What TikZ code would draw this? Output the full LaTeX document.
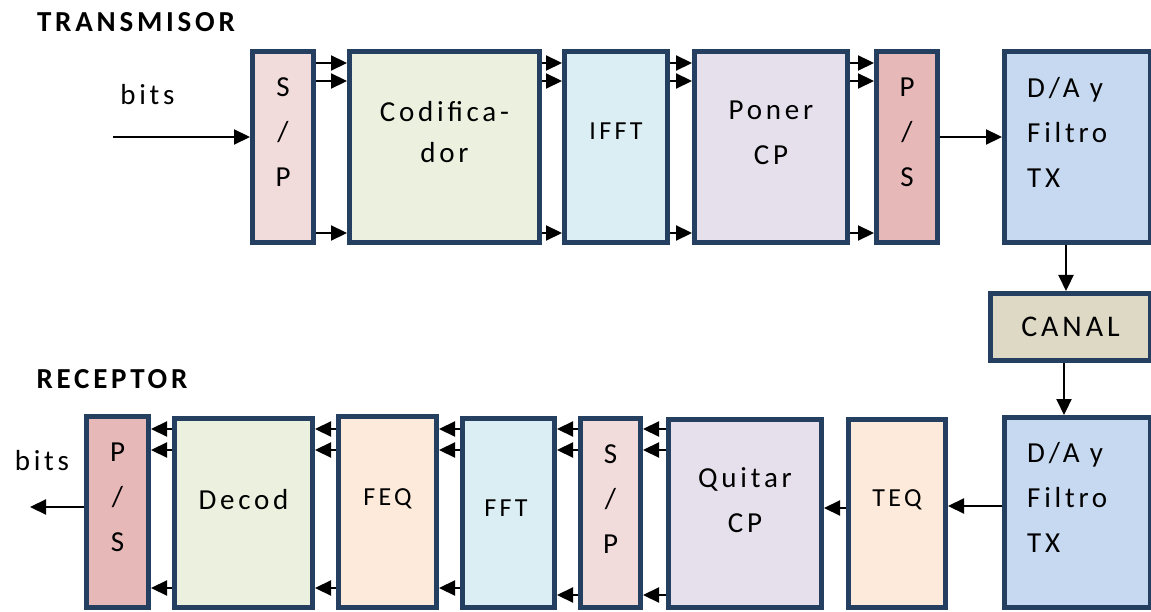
\documentclass[tikz,border=0pt]{standalone}
\usepackage{fontspec}
\setmainfont{Carlito}
\newfontfamily\bodyfont[LetterSpace=13]{Carlito}
\usetikzlibrary{arrows.meta,calc}
\definecolor{navy}{HTML}{243F60}
\definecolor{cpink}{HTML}{F2DCDB}
\definecolor{cgreen}{HTML}{EBF1DE}
\definecolor{cblue}{HTML}{DBEEF4}
\definecolor{cpurple}{HTML}{E5E0EC}
\definecolor{crose}{HTML}{E6B9B8}
\definecolor{csky}{HTML}{C6D9F1}
\definecolor{ctan}{HTML}{DDD9C4}
\definecolor{cpeach}{HTML}{FDEADA}
\tikzset{
  box/.style={draw=navy, line width=5pt, inner sep=0pt},
  txt/.style={font=\bodyfont\fontsize{29}{45}\selectfont, align=center, inner sep=0pt},
  stxt/.style={font=\bodyfont\fontsize{26}{40}\selectfont, inner sep=0pt},
  ttl/.style={font=\bodyfont\bfseries\fontsize{29}{35}\selectfont, inner sep=0pt},
  arr/.style={line width=2.2pt, -{Triangle[length=16pt 0 0,width=15pt 0 0]}}
}
\begin{document}
\begin{tikzpicture}[x=1pt,y=-1pt]
\useasboundingbox (0,0) rectangle (1151,612);

% titles
\node[ttl] (ttx) at (136,22) {TRANSMISOR};
\node[ttl] (trx) at (112,379) {RECEPTOR};

% transmitter boxes
\node[box, fill=cpink,   minimum width=61pt,  minimum height=191pt] (sp1)   at (283,147) {};
\node[box, fill=cgreen,  minimum width=190pt, minimum height=191pt] (cod)   at (444.5,147) {};
\node[box, fill=cblue,   minimum width=103pt, minimum height=191pt] (ifft)  at (616,147) {};
\node[box, fill=cpurple, minimum width=153pt, minimum height=191pt] (poner) at (771,147) {};
\node[box, fill=crose,   minimum width=61pt,  minimum height=191pt] (ps1)   at (907,147) {};
\node[box, fill=csky,    minimum width=146pt, minimum height=191pt] (da1)   at (1077.5,147) {};

% channel
\node[box, fill=ctan, minimum width=160pt, minimum height=67pt, font=\bodyfont\fontsize{30}{36}\selectfont] (canal) at (1070.5,327) {CANAL};

% receiver boxes
\node[box, fill=csky,    minimum width=146pt, minimum height=190pt] (da2)    at (1077.5,512.5) {};
\node[box, fill=cpeach,  minimum width=97pt,  minimum height=188pt] (teq)    at (897,513.5) {};
\node[box, fill=cpurple, minimum width=153pt, minimum height=188pt] (quitar) at (745,513.5) {};
\node[box, fill=cpink,   minimum width=60pt,  minimum height=189pt] (sp2)    at (610.5,513) {};
\node[box, fill=cblue,   minimum width=92pt,  minimum height=189pt] (fft)    at (508.5,513) {};
\node[box, fill=cpeach,  minimum width=98pt,  minimum height=191pt] (feq)    at (387.5,512) {};
\node[box, fill=cgreen,  minimum width=138pt, minimum height=189pt] (decod)  at (243.5,513) {};
\node[box, fill=crose,   minimum width=62pt,  minimum height=191pt] (ps2)    at (117.5,512) {};

% box texts
\node[txt] (sp1t) at (283,132.5) {S\\/\\P};
\node[txt] (codt) at (444.5,132) {Codifica-\\[-4pt]dor};
\node[stxt] (ifftt) at (616,131.5) {IFFT};
\node[txt] (ponert) at (771,133) {Poner\\CP};
\node[txt] (ps1t) at (907,132.5) {P\\/\\S};
\node[txt, align=left, anchor=west] (da1t) at (1027,132) {D/A y\\Filtro\\TX};

\node[txt, align=left, anchor=west] (da2t) at (1027,497.5) {D/A y\\Filtro\\TX};
\node[stxt] (teqt) at (897,500) {TEQ};
\node[txt] (quitart) at (745,500) {Quitar\\CP};
\node[txt] (sp2t) at (610.5,499) {S\\/\\P};
\node[stxt] (fftt) at (506,508.5) {FFT};
\node[stxt] (feqt) at (387.5,499) {FEQ};
\node[txt] (decodt) at (243.5,499.5) {Decod};
\node[txt] (ps2t) at (117.5,497.5) {P\\/\\S};

% bits labels
\node[txt] (bitsa) at (147.5,94.5) {bits};
\node[txt] (bitsb) at (42,461) {bits};
\coordinate (bitsin) at (113,137);
\coordinate (bitsout) at (30,507);

% transmitter connectors
\draw[arr] (bitsin) -- (sp1.west |- 0,137);
\foreach \a/\b in {sp1/cod, cod/ifft, ifft/poner, poner/ps1} {
  \foreach \y in {63,81,233} {
    \draw[arr] (\a.east |- 0,\y) -- (\b.west |- 0,\y);
  }
}
\draw[arr] (ps1.east |- 0,137) -- (da1.west |- 0,137);
\draw[arr] (da1.south -| 1066,0) -- (canal.north -| 1066,0);
\draw[arr] (canal.south -| 1064,0) -- (da2.north -| 1064,0);

% receiver connectors
\draw[arr] (da2.west |- 0,506) -- (teq.east |- 0,506);
\draw[arr] (teq.west |- 0,508) -- (quitar.east |- 0,508);
\foreach \a/\b in {quitar/sp2, sp2/fft} {
  \foreach \y in {429,450,595} {
    \draw[arr] (\a.west |- 0,\y) -- (\b.east |- 0,\y);
  }
}
\foreach \a/\b in {fft/feq, feq/decod, decod/ps2} {
  \foreach \y in {429,450,588} {
    \draw[arr] (\a.west |- 0,\y) -- (\b.east |- 0,\y);
  }
}
\draw[arr] (ps2.west |- 0,507) -- (bitsout);
\end{tikzpicture}
\end{document}
